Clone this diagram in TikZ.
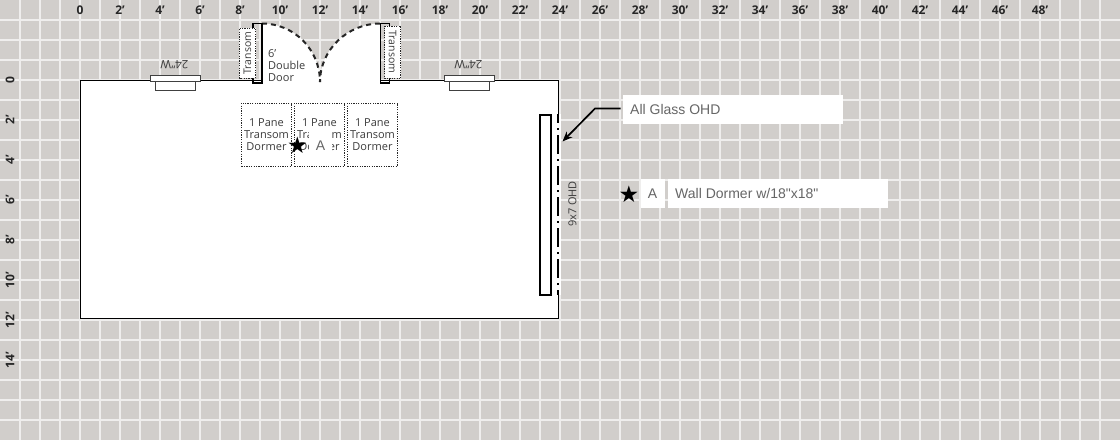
\documentclass[tikz,border=0pt]{standalone}
\usepackage{fontspec}
\setmainfont{Open Sans}
\newfontfamily\arialf{Liberation Sans}
\newfontfamily\symf{DejaVu Sans}
\usetikzlibrary{arrows.meta}
\definecolor{bgc}{HTML}{D1CECB}
\definecolor{gridc}{HTML}{EFEEED}
\definecolor{labc}{HTML}{666666}
\definecolor{txtc}{HTML}{3C3C3C}
\tikzset{
 x=1pt,y=-1pt,
 rulerx/.style={font=\bfseries\fontsize{12}{12}\selectfont,text=black!85,inner sep=0pt,anchor=center},
 rulery/.style={rulerx,rotate=90},
 wall/.style={draw=black,line width=1.3pt},
 win/.style={draw=black!75,fill=white,line width=1pt},
 wintext/.style={font=\fontsize{11.5}{11.5}\selectfont,text=txtc,rotate=180,inner sep=0pt},
 dorm/.style={draw=black!85,dash pattern=on 1.2pt off 1.2pt,line width=1pt,fill=white,minimum width=50pt,minimum height=63pt,inner sep=0pt,outer sep=0pt},
 trans/.style={fill=white,draw=black!85,dash pattern=on 1.2pt off 1.2pt,line width=1pt,inner sep=0pt,rotate=-90,font=\fontsize{10.5}{11}\selectfont,text=txtc},
 dormt/.style={font=\fontsize{11}{12}\selectfont,text=txtc,align=center,inner sep=0pt},
 jamb/.style={draw=black,line width=1.8pt},
 swing/.style={draw=black!85,line width=2pt,dash pattern=on 5pt off 4pt},
 labbox/.style={fill=white,inner sep=0pt,outer sep=0pt},
 labt/.style={font=\arialf\fontsize{14}{14}\selectfont,text=labc,inner sep=0pt},
 startxt/.style={font=\symf\fontsize{23}{23}\selectfont,text=black,inner sep=0pt},
}
\begin{document}
\begin{tikzpicture}
\useasboundingbox (0,0) rectangle (1120,440);
\fill[bgc] (0,0) rectangle (1120,440);
\foreach \i in {1,...,55} \draw[gridc,line width=1.15pt] (20*\i,0) -- (20*\i,440);
\foreach \i in {1,...,21} \draw[gridc,line width=1.15pt] (0,20*\i) -- (1120,20*\i);
% rulers
\node[rulerx] (rx0) at (80,10) {0};
\foreach \i in {2,4,...,48} \node[rulerx] (rx\i) at ({80+20*\i},10) {\i'};
\node[rulery] (ry0) at (10,80) {0};
\foreach \i in {2,4,...,14} \node[rulery] (ry\i) at (10,{80+20*\i}) {\i'};
% building
\node[wall,fill=white,minimum width=478pt,minimum height=238pt,inner sep=0pt,outer sep=0pt,anchor=north west] (bldg) at (80.5,80.5) {};
% windows
\foreach \n/\x in {a/149.5,b/443.5}{
 \node[win,minimum width=40pt,minimum height=9pt,inner sep=0pt,anchor=north west] (\n in) at ({\x+5},81) {};
 \node[win,minimum width=50pt,minimum height=6pt,inner sep=0pt,anchor=north west] (\n out) at (\x,75) {};
 \node[wintext] (\n txt) at ({\x+25},65) {24"W};
}
% door opening
\fill[white] (262,82) -- (262,23.5) .. controls (294,23.5) and (320,49.5) .. (320,81.5) .. controls (320,49.5) and (348,23.5) .. (380,23.5) -- (380,82) -- cycle;
\draw[swing] (262,23.5) .. controls (294,23.5) and (320,49.5) .. (320,82);
\draw[swing] (380,23.5) .. controls (348,23.5) and (320,49.5) .. (320,82);
\draw[jamb] (253,23.5) -- (262,23.5) -- (262,83) -- (253,83) -- cycle;
\draw[jamb] (389.5,23.5) -- (380.5,23.5) -- (380.5,83) -- (389.5,83) -- cycle;
\node[trans,minimum width=50pt,minimum height=16pt] (trl) at (247.5,53) {\rotatebox{180}{Transom}};
\node[trans,minimum width=52pt,minimum height=16pt] (trr) at (392.5,52) {Transom};
\node[dormt,align=left,anchor=north west] (dd) at (268,49) {6'\\Double\\Door};
% dormers
\node[dorm] (d1) at (266.5,134.5) {};
\node[dorm] (d2) at (319.5,134.5) {};
\node[dorm] (d3) at (372.5,134.5) {};
\node[dormt] (d1t) at (266.5,135) {1 Pane\\Transom\\Dormer};
\node[dormt] (d2t) at (319.5,135) {1 Pane\\Transom\\Dormer};
\node[dormt] (d3t) at (372.5,135) {1 Pane\\Transom\\Dormer};
\node[labbox,minimum width=23pt,minimum height=29pt] (am) at (320.5,145.5) {};
\node[font=\arialf\fontsize{14}{14}\selectfont,text=labc,inner sep=0pt] (a1) at (320.5,145.5) {A};
\node[startxt] (s1) at (297.5,145) {★};
% OHD
\node[draw=black,fill=white,line width=1.5pt,minimum width=11pt,minimum height=180pt,inner sep=0pt,anchor=north west] (ohd) at (539.3,114.3) {};
\draw[draw=white,line width=5pt] (558.5,114) -- (558.5,295);
\draw[black,line width=2pt,dash pattern=on 19pt off 5pt on 2pt off 5pt,dash phase=10pt] (557.5,114) -- (557.5,295);
\node[font=\fontsize{11}{11}\selectfont,text=txtc,rotate=90,inner sep=0pt] (ohdt) at (572.5,204) {9x7 OHD};
% labels
\node[labbox,minimum width=220pt,minimum height=29pt,anchor=north west] (l1) at (622.5,95) {};
\node[labt,anchor=west] (l1t) at (630,109.5) {All Glass OHD};
\coordinate (tip) at (562.5,141.5);
\draw[black,line width=1.7pt,-{Stealth[length=10pt,width=8pt]}] (l1.west) ++(-2,-1) coordinate (st) -- (595,108.5) -- (tip);
\node[startxt] (s2) at (629,194) {★};
\node[labbox,minimum width=24pt,minimum height=29pt,anchor=north west] (l2) at (641,179) {};
\node[labt] (l2t) at (652.5,193.5) {A};
\node[labbox,minimum width=220pt,minimum height=29pt,anchor=north west] (l3) at (668,179) {};
\node[labt,anchor=west] (l3t) at (675,193.5) {Wall Dormer w/18"x18"};
\end{tikzpicture}
\end{document}
